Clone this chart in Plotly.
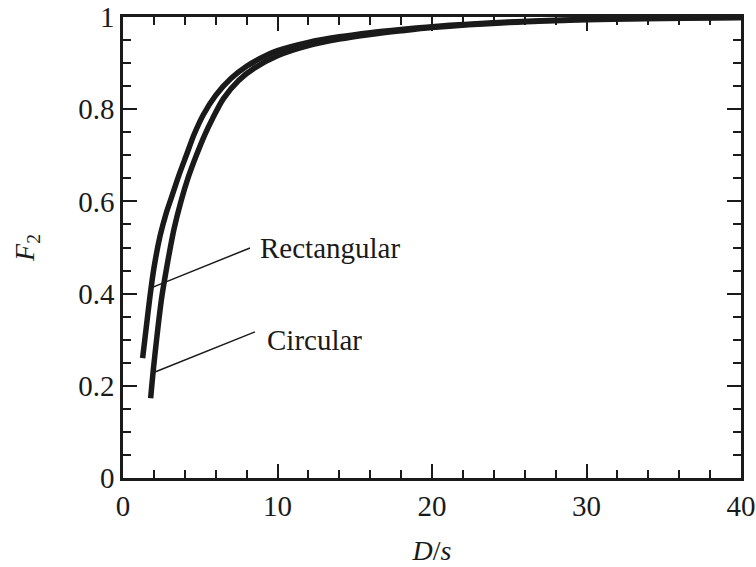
import plotly.graph_objects as go

# Rectangular curve (D/s, F2)
rect_x = [1.27, 1.5, 1.75, 2.0, 2.4, 2.8, 3.1, 3.6, 4.1, 4.6, 5.2, 6.0, 7.0, 8.0, 9.0, 10, 12, 14, 16, 18, 20, 25, 30, 35, 40]
rect_y = [0.26, 0.325, 0.395, 0.455, 0.525, 0.575, 0.605, 0.655, 0.70, 0.745, 0.788, 0.83, 0.867, 0.893, 0.912, 0.927, 0.945, 0.957, 0.966, 0.973, 0.979, 0.989, 0.995, 0.998, 0.999]

# Circular curve (D/s, F2)
circ_x = [1.79, 1.96, 2.22, 2.5, 2.9, 3.3, 3.75, 4.2, 4.75, 5.3, 5.8, 6.5, 7.5, 8.5, 10, 12, 14, 16, 18, 20, 25, 30, 35, 40]
circ_y = [0.173, 0.234, 0.314, 0.39, 0.47, 0.54, 0.60, 0.65, 0.70, 0.745, 0.78, 0.823, 0.863, 0.889, 0.916, 0.938, 0.952, 0.962, 0.970, 0.977, 0.988, 0.994, 0.997, 0.999]

# Labels with leader lines
labels = ["Rectangular", "Circular"]
lead_x0 = [1.94, 2.07]
lead_y0 = [0.414, 0.230]
lead_x1 = [8.22, 8.54]
lead_y1 = [0.499, 0.317]
label_x = [8.74, 9.19]
label_y = [0.499, 0.299]

x_ticks = [0, 10, 20, 30, 40]
y_ticks = [0, 0.2, 0.4, 0.6, 0.8, 1]

serif = "Liberation Serif, Times New Roman, serif"
ink = "#1a1a1a"

fig = go.Figure()
for xs, ys in [(rect_x, rect_y), (circ_x, circ_y)]:
    fig.add_trace(go.Scatter(x=xs, y=ys, mode="lines",
                             line=dict(color=ink, width=5.5, shape="spline", smoothing=0.8),
                             showlegend=False, hoverinfo="skip"))

for i, t in enumerate(labels):
    fig.add_shape(type="line", x0=lead_x0[i], y0=lead_y0[i], x1=lead_x1[i], y1=lead_y1[i],
                  xref="x", yref="y", line=dict(color=ink, width=1.5))
    fig.add_annotation(x=label_x[i], y=label_y[i], text=t, showarrow=False, xanchor="left", yanchor="middle",
                       font=dict(family=serif, size=29, color=ink))

axis_common = dict(
    showline=True, linecolor=ink, linewidth=2.5, mirror="allticks",
    ticks="inside", ticklen=14, tickwidth=2, tickcolor=ink,
    showgrid=False, zeroline=False, automargin=False,
    ticklabeloverflow="allow",
    tickfont=dict(family=serif, size=29, color=ink),
)
fig.update_xaxes(range=[0, 40], tickvals=x_ticks,
                 minor=dict(dtick=2, ticks="inside", ticklen=8, tickwidth=2, tickcolor=ink),
                 title=dict(text="<i>D</i>/<i>s</i>", font=dict(family=serif, size=28, color=ink), standoff=20),
                 **axis_common)
fig.update_yaxes(range=[0, 1], tickvals=y_ticks,
                 minor=dict(dtick=0.05, ticks="inside", ticklen=8, tickwidth=2, tickcolor=ink),
                 title=dict(text="<i>F</i><sub>2</sub>", font=dict(family=serif, size=28, color=ink), standoff=36),
                 **axis_common)

fig.update_layout(width=756, height=567, margin=dict(l=123, r=15, t=17, b=89),
                  plot_bgcolor="white", paper_bgcolor="white")

fig.write_html("out.html")
